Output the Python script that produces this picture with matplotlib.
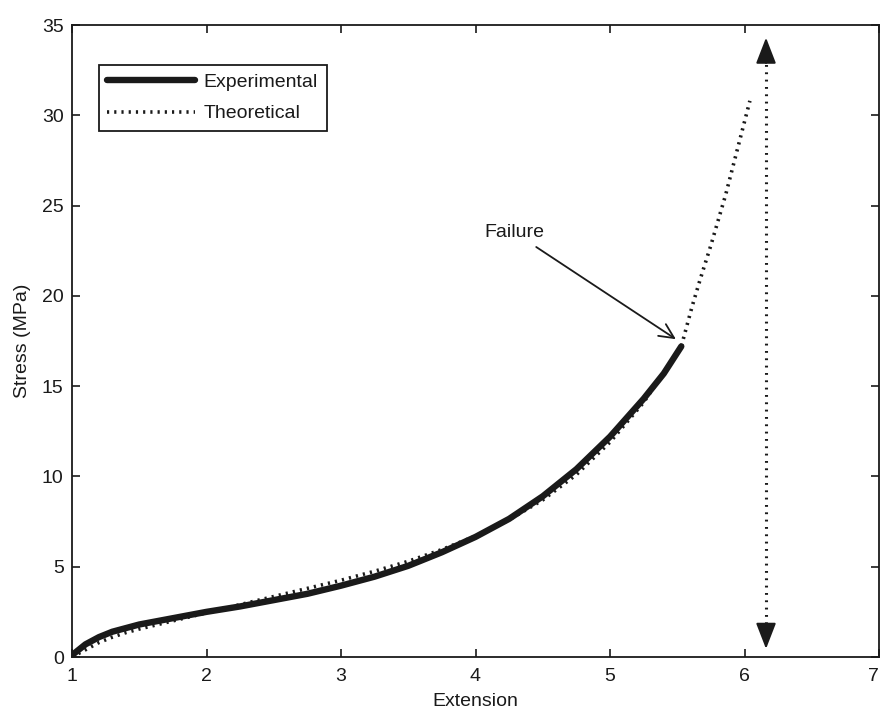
import matplotlib
matplotlib.use("Agg")
import matplotlib.pyplot as plt

plt.rcParams['font.family'] = ['Liberation Sans', 'DejaVu Sans']

# stress-extension data (MPa vs stretch ratio)
exp_ext = [1.0, 1.05, 1.1, 1.2, 1.3, 1.4, 1.5, 1.75, 2.0, 2.25, 2.5, 2.75, 3.0,
           3.25, 3.5, 3.75, 4.0, 4.25, 4.5, 4.75, 5.0, 5.25, 5.4, 5.53]
exp_stress = [0.1, 0.4, 0.7, 1.1, 1.4, 1.6, 1.8, 2.15, 2.5, 2.8, 3.15, 3.5, 3.95,
              4.45, 5.05, 5.8, 6.65, 7.65, 8.9, 10.4, 12.2, 14.3, 15.7, 17.2]

theo_ext = [1.0, 1.1, 1.2, 1.3, 1.4, 1.5, 1.75, 2.0, 2.25, 2.5, 2.75, 3.0, 3.25,
            3.5, 3.75, 4.0, 4.25, 4.5, 4.75, 5.0, 5.25, 5.53, 5.61, 5.67, 5.75,
            5.86, 5.95, 6.04]
theo_stress = [0.0, 0.4, 0.8, 1.1, 1.35, 1.55, 2.0, 2.45, 2.9, 3.35, 3.8, 4.25,
               4.75, 5.3, 5.95, 6.7, 7.6, 8.7, 10.1, 11.9, 14.1, 17.2, 19.4,
               20.9, 22.8, 25.6, 28.2, 30.8]

failure_pt = (5.49, 17.6)
failure_txt = (4.29, 23.5)
range_x = 6.16
range_lo, range_hi = 0.45, 34.3

ink = '#1a1a1a'

fig = plt.figure(figsize=(8.81, 7.10), dpi=100)
ax = fig.add_axes([72 / 881, 53 / 710, 807 / 881, 632 / 710])

ax.plot(exp_ext, exp_stress, color=ink, lw=4.6, solid_capstyle='round',
        label='Experimental')
ax.plot(theo_ext, theo_stress, color=ink, lw=2.6, ls=(0, (0.6, 1.4)),
        dash_capstyle='butt', label='Theoretical')

# vertical dotted double arrow
ax.plot([range_x, range_x], [range_lo + 1.0, range_hi - 1.0], color=ink,
        lw=2.2, ls=(0, (0.6, 1.8)))
for tip, tail in [(range_hi, range_hi - 1.4), (range_lo, range_lo + 1.4)]:
    ax.annotate('', xy=(range_x, tip), xytext=(range_x, tail),
                arrowprops=dict(arrowstyle='-|>,head_length=1.6,head_width=0.62',
                                color=ink, lw=1.5, shrinkA=0, shrinkB=0))

ax.annotate('Failure', xy=failure_pt, xytext=failure_txt, fontsize=14,
            ha='center', va='center', color=ink,
            arrowprops=dict(arrowstyle='->,head_length=0.75,head_width=0.36',
                            color=ink, lw=1.3, shrinkA=4, shrinkB=0))

ax.set_xlim(1, 7)
ax.set_ylim(0, 35)
ax.set_xticks(range(1, 8))
ax.set_yticks(range(0, 36, 5))
ax.tick_params(direction='in', length=6, width=1.2, top=True, right=True,
               labelsize=14, pad=6, colors=ink)
ax.tick_params(axis='x', pad=8)
for s in ax.spines.values():
    s.set_linewidth(1.3)
    s.set_color(ink)

# keep the last x label inside the figure edge
ax.get_xticklabels()[-1].set_horizontalalignment('right')

ax.set_xlabel('Extension', fontsize=14, labelpad=6, color=ink)
ax.set_ylabel('Stress (MPa)', fontsize=14, labelpad=8, color=ink)

leg = ax.legend(loc='upper left', bbox_to_anchor=(0.033, 0.937), borderaxespad=0,
                fancybox=False, edgecolor=ink, fontsize=14,
                handlelength=4.5, handletextpad=0.45, borderpad=0.45,
                labelspacing=0.7, framealpha=1)
leg.get_frame().set_linewidth(1.3)
for t in leg.get_texts():
    t.set_color(ink)

fig.savefig('out.png', dpi=100)
